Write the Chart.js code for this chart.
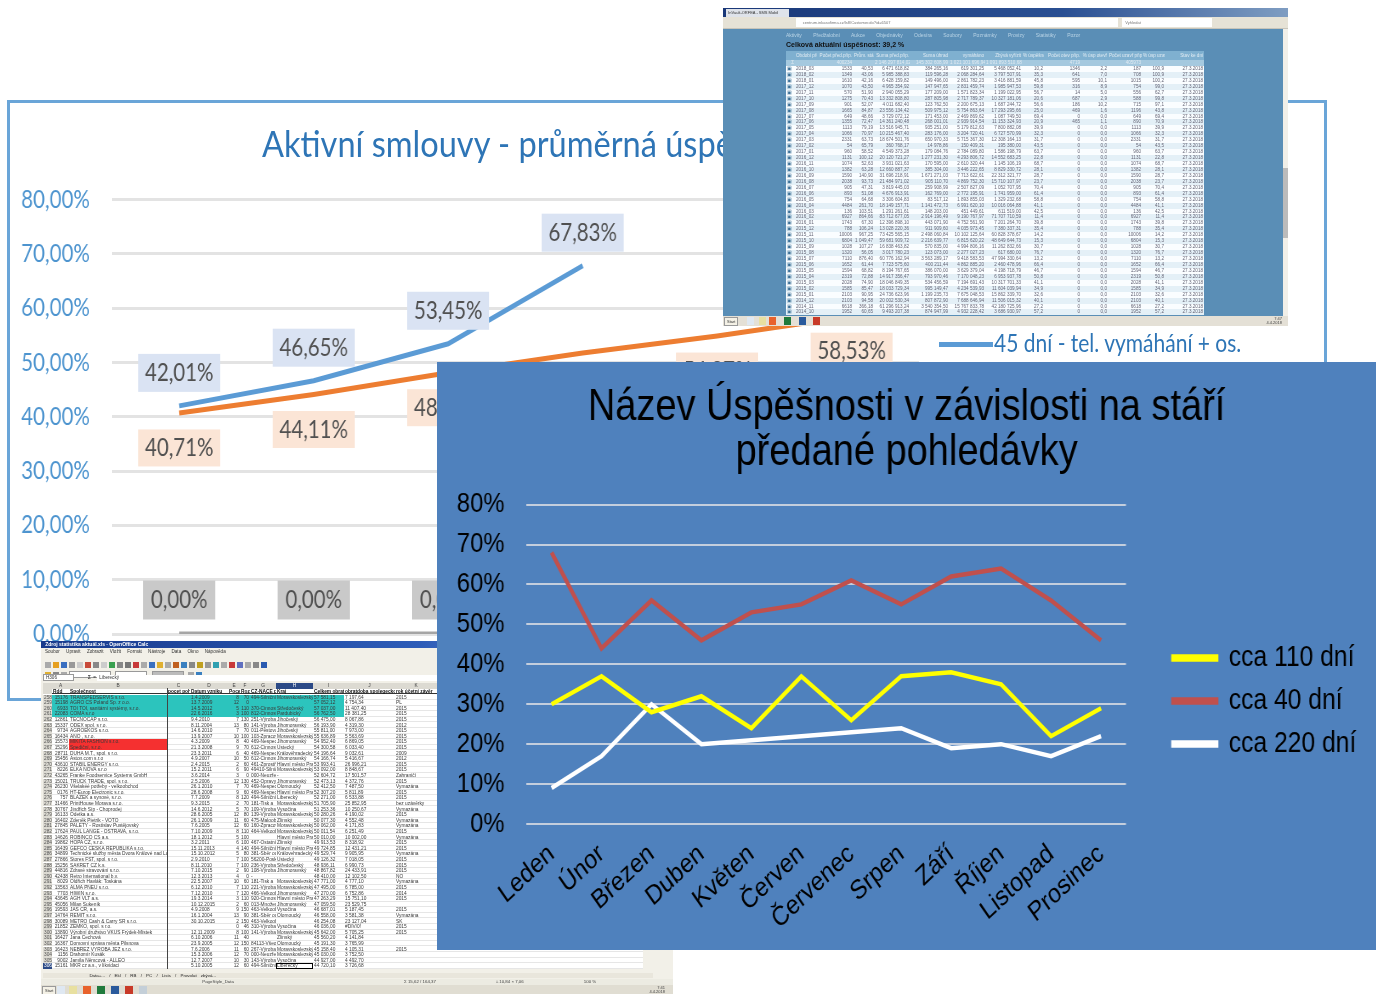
<!DOCTYPE html>
<html lang="cs"><head><meta charset="utf-8"><title>Úspěšnost</title>
<script src="https://cdn.jsdelivr.net/npm/chart.js@4"></script>
<style>
html,body{margin:0;padding:0;background:#fff;width:1381px;height:994px;overflow:hidden}
.abs{position:absolute}
#slide{left:7px;top:100px;width:1314px;height:595px;border:3px solid #6aa5d8;background:#fff;filter:blur(.7px)}
#slideTitle{left:262px;top:120px;font:37px Lato,sans-serif;color:#2e75b6;white-space:nowrap;transform-origin:0 0;transform:scaleX(.88);filter:blur(.7px)}
#slideLine{left:939px;top:342px;width:54px;height:5px;background:#5b9bd5;filter:blur(.6px)}
#slideLegend{left:994px;top:327px;font:25px Lato,sans-serif;color:#2e75b6;white-space:nowrap;transform-origin:0 0;transform:scaleX(.84);filter:blur(.6px)}
#bgChart{left:7px;top:100px;transform-origin:0 0;transform:scaleX(.82);filter:blur(.7px)}
#browser{left:723px;top:8px;width:565px;height:318px;background:#5a8eb6;overflow:hidden;filter:blur(.7px);font-family:"Liberation Sans",sans-serif}
#browser table{position:absolute;left:63px;top:43px;width:418px;border-collapse:collapse;table-layout:fixed;font-size:4.6px;color:#667}
#browser td,#browser th{padding:0 1px;height:5.94px;line-height:5.94px;white-space:nowrap;overflow:hidden;text-align:right;font-weight:400}
#browser thead th{height:9px;background:#7fb0d0;color:#dfeaf2}
#browser thead tr+tr th{height:6px;background:#a5c9df}
#browser tbody tr:nth-child(odd){background:#fafdff}
#browser tbody tr:nth-child(even){background:#e4f0f7}
#sheet{left:41px;top:641px;width:632px;height:353px;background:#f2f0e8;overflow:hidden;filter:blur(.5px);font-family:"Liberation Sans",sans-serif}
#grid{position:absolute;left:2px;top:42px;width:600px;height:286px;background:#fff;font-size:4.8px;color:#3a3a3a}
.r{position:absolute;left:0;width:600px;height:5.6px;line-height:5.6px;white-space:nowrap;border-bottom:.3px solid #e6e6e6;box-sizing:border-box}
.c{position:absolute;top:0;height:5.6px;overflow:hidden;padding:0 1px;box-sizing:border-box}
#mainChart{left:437px;top:362px;transform-origin:0 0;transform:scaleX(.85);filter:blur(.45px)}
.b{display:inline-block;width:6px;height:6px;margin-right:2px;vertical-align:middle}
</style></head><body>
<div id="slide" class="abs"></div>
<canvas id="bgChart" class="abs" width="1602" height="595"></canvas>
<div id="slideTitle" class="abs">Aktivní smlouvy - průměrná úspěšnost</div>
<div id="slideLine" class="abs"></div>
<div id="slideLegend" class="abs">45 dní - tel. vymáhání + os.</div>
<div id="browser" class="abs"></div>
<div id="sheet" class="abs"></div>
<canvas id="mainChart" class="abs" width="1105" height="588"></canvas>
<script>
// ---------- main chart ----------
const months = ["Leden","Únor","Březen","Duben","Květen","Červen","Červenec","Srpen","Září","Říjen","Listopad","Prosinec"];
const cca110 = [30,37,28,32,24,37,26,37,38,35,22,29];
const cca40  = [68,44,56,46,53,55,61,55,62,64,56,46];
const cca220 = [9,17,30,20,21,22,23,24,19,20,17,22];
const mainTitle = ["Název Úspěšnosti v závislosti na stáří","předané pohledávky"];
const pctTicks = [0,10,20,30,40,50,60,70,80];
// ---------- background chart ----------
const slideCats = ["1","2","3","4","5","6"];
const days45 = [42.01,46.65,53.45,67.83,null,null];
const daysOrange = [40.71,44.11,48.12,51.74,54.87,58.53];
const daysGray = [0,0,0,0,0,0];
// ---------- spreadsheet ----------
const sheetHead = "|Rdd|Společnost|pocet pohlr|Datum vzniku|Pocet|Rozzr|CZ-NACE př|Kraj|Celkem obrat|obratdoba spolegeckov|rok účetní závěr";
const sheetRows = [
"258|15176|TRANSPEDSERVIS s.r.o.||1.4.2009|8|70|494-Silniční|Moravskoslezský|57 581,15|7 197,64|2015",
"259|15198|AGRO CS Poland Sp. z o.o.||13.7.2009|12|0|||57 052,12|4 754,34|PL",
"260|6933|TOI TOI, sanitární systémy, s.r.o.||14.5.2012|5|110|370-Činnosti|Středočeský|57 037,00|11 407,40|2015",
"261|22083|COMA s.r.o||22.6.2016|3|100|812-Činnosti|Pardubický|56 762,50|28 381,25|2015",
"262|12861|TECNOCAP s.r.o.||9.4.2010|7|130|251-Výroba|Jihočeský|56 475,00|8 067,86|2015",
"263|15337|ODEX spol. s r.o.||8.11.2004|13|80|141-Výroba|Jihomoravský|56 193,90|4 319,30|2012",
"264|9734|AGROEKOS s.r.o.||14.6.2010|7|70|011-Pěstování|Jihočeský|55 811,00|7 973,00|2015",
"265|16434|ANO , s.r.o.||13.9.2007|10|100|103-Zpracování|Moravskoslezský|55 636,89|5 563,69|2015",
"266|15573|MIKITA FASHION s.r.o.||4.3.2009|8|40|469-Nespec|Jihomoravský|54 952,40|6 869,05|2015",
"267|15296|Spediční, s.r.o.||21.3.2008|9|70|612-Činnosti|Ústecký|54 300,58|6 033,40|2015",
"268|28711|DUHA M.T., spol. s r.o.||23.3.2011|6|40|469-Nespec|Královéhradecký|54 196,64|9 032,61|2009",
"269|15456|Aston.com s.r.o||4.9.2007|10|50|612-Činnosti|Jihomoravský|54 166,74|5 416,67|2012",
"270|43610|STABIL ENERGY s.r.o.||2.4.2015|2|60|461-Zprostř|Hlavní město Praha|53 993,41|26 996,21|2015",
"271|8226|ELKA NOVA s.r.o||15.2.2011|6|90|49410-Silniční|Moravskoslezský|53 092,00|8 848,67|2015",
"272|43265|Franke Foodservice Systems GmbH||3.6.2014|3|0|000-Neuzře|-|52 604,72|17 501,57|Zahraničí",
"273|15021|TRUCK TRADE, spol. s r.o.||2.5.2006|12|130|452-Opravy|Jihomoravský|52 473,13|4 372,76|2015",
"274|26230|Všelakéé potřeby - velkoobchod||26.1.2010|7|70|469-Nespec|Olomoucký|52 412,50|7 487,50|Vymazána",
"275|0176|HT-Europ Electronic s.r.o.||28.6.2008|9|60|469-Nespec|Hlavní město Praha|52 307,20|5 811,89|2015",
"276|757|BLAŽEK a synové, s.r.o.||7.7.2009|8|120|494-Silniční|Liberecký|52 271,00|6 533,88|2015",
"277|31466|PrintHouse Morava s.r.o.||9.3.2015|2|70|181-Tisk a|Moravskoslezský|51 705,90|25 852,95|bez uzávěrky",
"278|30767|Jindřich Šíp - Choprodej||14.6.2012|5|70|109-Výroba|Vysočina|51 253,36|10 250,67|Vymazána",
"279|16133|Odetka a.s.||28.6.2005|12|80|139-Výroba|Moravskoslezský|50 280,26|4 190,02|2015",
"280|16402|Zdeněk Pietrik - VOTO||26.1.2009|11|60|475-Maloobc|Zlínský|50 077,30|4 552,48|Vymazána",
"281|27845|PALETY - Rostislav Pustějovský||7.6.2005|12|60|160-Zpracování|Moravskoslezský|50 062,00|4 171,83|Vymazána",
"282|17624|PAUL LANGE - OSTRAVA, s.r.o.||7.10.2009|8|110|464-Velkoobch|Moravskoslezský|50 011,54|6 251,49|2015",
"283|14626|ROBINCO CS a.s.||18.1.2012|5|100||Hlavní město Praha|50 010,00|10 002,00|Vymazána",
"284|19862|HOPA CZ, s.r.o.||3.2.2011|6|100|467-Ostatní|Zlínský|49 913,53|8 318,92|2015",
"285|16439|GEFCO ČESKÁ REPUBLIKA s.r.o.||15.11.2013|4|140|494-Silniční|Hlavní město Praha|49 724,85|12 431,21|2015",
"286|34899|Technické služby města Dvora Králové nad Labem||15.10.2012|5|80|381-Sběr odp|Královehradecký|49 529,74|9 905,95|Vymazána",
"287|27866|Stores FST, spol. s r.o.||2.9.2010|7|100|56200-Poskyt|Ústecký|49 126,32|7 018,05|2015",
"288|15256|SAKRET CZ k.s.||8.11.2010|7|100|236-Výroba|Středočeský|48 936,11|6 990,73|2015",
"289|44816|Zdravé stravování s.r.o.||7.10.2015|2|90|108-Výroba|Jihomoravský|48 867,82|24 433,91|2015",
"290|42438|Retro International b.v.||12.3.2013|4|0|-||48 410,00|12 102,50|NO",
"291|8029|Oldřich Havlák: Toskána||22.5.2007|10|60|181-Tisk a|Moravskoslezský|47 771,00|4 777,10|Vymazána",
"292|13563|ALMA PNEU s.r.o.||6.12.2010|7|110|221-Výroba|Moravskoslezský|47 495,00|6 785,00|2015",
"293|7703|HIWIN s.r.o.||7.12.2010|7|120|466-Velkoobch|Jihomoravský|47 270,00|6 752,86|2014",
"294|43645|AGH VLT a.s.||19.3.2014|3|110|920-Činnosti|Hlavní město Praha|47 263,29|15 751,10|2015",
"295|45056|Milan Sukeník||10.12.2015|2|60|013-Množení|Jihomoravský|47 059,50|23 529,75|",
"296|19593|JAS ČR, a.s.||4.9.2008|9|150|463-Velkoobch|Vysočina|46 687,01|5 187,45|2015",
"297|14764|REMIT s.r.o.||16.1.2004|13|90|381-Sběr odp|Olomoucký|46 558,00|3 581,38|Vymazána",
"298|30089|METRO Cash & Carry SR s.r.o.||30.10.2015|2|150|463-Velkoobch||46 254,08|23 127,04|SK",
"299|21852|ZEMKO, spol. s r.o.|||0|46|310-Výroba|Vysočina|46 036,00|#DIV/0!|2015",
"300|13890|Výrobní družstvo VKUS Frýdek-Místek||12.11.2009|8|100|141-Výroba|Moravskoslezský|45 642,00|5 705,25|2015",
"301|16427|Jana Čechová||6.10.2006|11|40||Zlínský|45 560,20|4 141,84|",
"302|16367|Domovní správa města Pilsnova||23.9.2005|12|150|84113-Všeob|Olomoucký|45 191,30|3 765,99|",
"303|16423|NEBREZ VÝROBA JEŽ s.r.o.||7.6.2006|11|60|267-Výroba|Moravskoslezský|45 158,40|4 105,31|2015",
"304|1156|Drahomír Kusák||15.3.2006|12|70|000-Neuzře|Moravskoslezský|45 030,00|3 752,50|",
"305|9002|Jamila Němcová - ALLEO||12.7.2007|10|30|143-Výroba|Vysočina|44 927,00|4 492,70|",
"306|15161|MKR cz a.s., v likvidaci||5.10.2005|12|60|494-Silniční|Liberecký|44 720,10|3 726,68|"
];
const sheetColWidths = [9,17,98,23,38,12,10,26,37,31,51,42,206];
// ---------- browser table ----------
const webHead = ["","Období přenz","Počet před.pňp.","Prům. stáří","Suma před.pňp.","Suma úhrad","vymáháno","Zbývá vyřízit","% úspěšnosti","Počet otev pňp.","% úsp otevř","Počet uzavř pňp.","% úsp uzavř","Stav ke dni"];
const webSum = ["Σ","","400234","","2 146 297 814,02","145 302 608,99","1 021 101 696,94","1 091 893 510,68","","4719","","405973","",""];
const webRows = [
"2018_03|1533|40,53|6 471 618,82|384 265,16|619 301,25|5 468 052,41|10,2|1346|2,2|187|100,9",
"2018_02|1349|43,06|5 985 388,83|119 596,28|2 068 284,64|3 797 507,91|35,3|641|7,0|708|100,9",
"2018_01|1610|42,16|6 428 159,82|149 496,00|2 861 782,23|3 416 881,59|45,8|595|10,1|1015|100,2",
"2017_12|1070|43,50|4 965 354,92|147 947,65|2 831 459,74|1 985 947,53|59,8|316|8,9|754|99,0",
"2017_11|570|51,90|2 940 055,29|177 209,00|1 571 823,34|1 199 022,95|56,7|14|5,0|556|62,7",
"2017_10|1275|70,43|13 332 808,80|287 805,98|2 717 789,37|10 327 181,06|20,6|687|2,9|588|99,8",
"2017_09|901|52,07|4 011 682,40|123 762,50|2 200 675,13|1 687 244,72|56,6|186|10,2|715|97,1",
"2017_08|1665|84,87|23 556 134,42|509 975,12|5 754 863,64|17 293 295,66|25,0|469|1,6|1196|43,8",
"2017_07|649|48,66|3 729 072,12|171 453,00|2 469 869,62|1 087 749,50|69,4|0|0,0|649|69,4",
"2017_06|1355|72,47|14 361 240,48|268 001,01|2 939 914,54|11 153 324,93|20,9|465|1,1|890|70,9",
"2017_05|1113|79,19|13 516 945,71|935 251,00|5 179 812,63|7 800 882,08|39,9|0|0,0|1113|39,9",
"2017_04|1066|70,97|10 215 467,40|283 176,00|3 204 720,41|6 727 570,99|32,3|0|0,0|1066|32,3",
"2017_03|2331|63,73|18 674 501,76|650 970,33|5 715 367,30|12 308 164,13|31,7|0|0,0|2331|31,7",
"2017_02|54|65,79|360 768,17|14 978,86|150 409,31|195 380,00|43,5|0|0,0|54|43,5",
"2017_01|960|58,52|4 549 373,28|179 084,76|2 784 089,80|1 586 198,79|63,7|0|0,0|960|63,7",
"2016_12|1131|100,12|20 120 721,27|1 277 231,30|4 293 806,72|14 552 683,25|22,8|0|0,0|1131|22,8",
"2016_11|1074|52,63|3 931 021,63|170 595,00|2 610 320,44|1 145 106,19|68,7|0|0,0|1074|68,7",
"2016_10|1382|63,28|12 660 887,37|385 304,00|3 446 222,65|8 829 330,72|28,1|0|0,0|1382|28,1",
"2016_09|1590|140,90|31 696 218,91|1 671 271,03|7 713 622,61|22 312 321,77|28,7|0|0,0|1590|28,7",
"2016_08|2038|93,73|21 484 971,02|905 110,70|4 869 752,30|15 710 107,97|23,7|0|0,0|2038|23,7",
"2016_07|905|47,31|3 819 445,03|259 908,99|2 507 827,09|1 052 707,95|70,4|0|0,0|905|70,4",
"2016_06|893|51,08|4 676 913,91|162 769,00|2 772 195,91|1 741 959,00|61,4|0|0,0|893|61,4",
"2016_05|754|64,68|3 306 604,83|83 517,12|1 893 855,03|1 329 232,68|58,8|0|0,0|754|58,8",
"2016_04|4484|261,70|18 149 157,71|1 141 472,73|6 991 620,10|10 016 064,88|41,1|0|0,0|4484|41,1",
"2016_03|136|103,51|1 291 261,61|148 203,00|451 449,61|611 519,00|42,5|0|0,0|136|42,5",
"2016_02|6927|864,66|83 712 677,05|2 914 196,49|9 190 767,97|71 707 710,59|11,4|0|0,0|6927|11,4",
"2016_01|1743|67,30|12 396 898,10|443 071,90|4 752 561,90|7 201 264,70|39,8|0|0,0|1743|39,8",
"2015_12|788|106,24|13 028 220,36|911 909,60|4 035 973,45|7 380 337,31|35,4|0|0,0|788|35,4",
"2015_11|10006|967,25|73 425 565,15|2 498 060,84|10 102 125,64|60 828 378,67|14,2|0|0,0|10006|14,2",
"2015_10|6804|1 049,47|59 681 909,72|2 216 639,77|6 815 620,22|48 649 644,73|15,3|0|0,0|6804|15,3",
"2015_09|1028|107,27|16 838 463,82|570 835,00|4 994 806,16|11 262 832,66|30,7|0|0,0|1028|30,7",
"2015_08|1320|56,05|3 017 780,23|123 073,00|2 277 027,23|617 680,00|76,7|0|0,0|1320|76,7",
"2015_07|7110|876,40|60 776 162,94|3 563 289,17|9 418 583,53|47 994 330,64|13,2|0|0,0|7110|13,2",
"2015_06|1652|61,44|7 723 575,60|400 211,44|4 862 885,20|2 460 478,96|66,4|0|0,0|1652|66,4",
"2015_05|1594|68,82|8 194 767,65|386 070,00|3 629 379,04|4 198 718,79|46,7|0|0,0|1594|46,7",
"2015_04|2319|72,88|14 917 356,47|793 970,46|7 170 048,23|6 953 937,78|50,8|0|0,0|2319|50,8",
"2015_03|2028|74,90|18 046 849,35|534 456,59|7 194 691,43|10 317 701,33|41,1|0|0,0|2028|41,1",
"2015_02|1585|85,47|18 033 729,34|995 149,47|4 234 539,93|11 604 039,94|34,9|0|0,0|1585|34,9",
"2015_01|2103|90,95|24 736 623,96|1 199 235,73|7 675 048,53|15 862 339,70|32,6|0|0,0|2103|32,6",
"2014_12|2103|94,58|20 002 530,34|807 872,90|7 688 646,94|11 506 015,32|40,1|0|0,0|2103|40,1",
"2014_11|6618|366,18|61 296 913,24|3 540 354,50|15 767 833,78|42 180 725,96|27,2|0|0,0|6618|27,2",
"2014_10|1952|60,65|9 493 207,38|874 947,99|4 932 228,42|3 686 930,97|57,2|0|0,0|1952|57,2"
];
const webColWidths = [9,22,36,21,36,39,36,37,22,37,27,34,23,39];
const webTools = ["Aktivity","Předžalobní","Aukce","Objednávky","Odesíra","Soubory","Poznámky","Provizy","Statistiky","Pozor"];
const sheetMenu = ["Soubor","Upravit","Zobrazit","Vložit","Formát","Nástroje","Data","Okno","Nápověda"];
const sheetTabs = ["Data+...","Ekl","RB","PC","Lists","Provolat zbývá..."];

// ---------- build browser ----------
const esc = s => s.replace(/&/g,"&amp;");
(function(){
 const el = document.getElementById("browser");
 let h = `<div class="abs" style="left:0;top:0;width:565px;height:9px;background:linear-gradient(90deg,#1a3878,#2a4f92 60%,#7f9dc2)"></div>
 <div class="abs" style="left:3px;top:1px;width:63px;height:8px;background:#dfe3ea;font-size:4px;line-height:8px;color:#333;white-space:nowrap;overflow:hidden">&nbsp;&nbsp;InVault-ORFEA - SMS Mobil</div>
 <div class="abs" style="left:0;top:9px;width:565px;height:11px;background:#e6e2d6"></div>
 <div class="abs" style="left:73px;top:10px;width:322px;height:9px;background:#fff;font-size:4px;line-height:9px;color:#777;white-space:nowrap">&nbsp;&nbsp;&nbsp;&nbsp;&nbsp;&nbsp;centrum.inkasofirma.cz/ls8/Customer.do?id=6507</div>
 <div class="abs" style="left:399px;top:10px;width:90px;height:9px;background:#fff;font-size:4px;line-height:9px;color:#777">&nbsp;&nbsp;&nbsp;Vyhledat</div>
 <div class="abs" style="left:0;top:20px;width:565px;height:1px;background:#c7c4ba"></div>
 <div class="abs" style="left:560px;top:21px;width:5px;height:287px;background:#f1efe8"></div>
 <div class="abs" style="left:560px;top:160px;width:5px;height:70px;background:#bbb"></div>
 <div class="abs" style="left:63px;top:24px;font-size:5px;color:#b9d4e6;white-space:nowrap;word-spacing:10px">${webTools.join(" ")}</div>
 <div class="abs" style="left:63px;top:33px;font-size:7px;font-weight:700;color:#111;white-space:nowrap">Celková aktuální úspěšnost: 39,2 %</div>`;
 h += `<table><colgroup>${webColWidths.map(w=>`<col style="width:${w}px">`).join("")}</colgroup><thead>
 <tr>${webHead.map(t=>`<th>${t}</th>`).join("")}</tr><tr>${webSum.map(t=>`<th>${t}</th>`).join("")}</tr></thead><tbody>`;
 webRows.forEach(r=>{const c=r.split("|");h+=`<tr><td style="text-align:left;color:#3a6f96">▣</td><td style="text-align:left">${c[0]}</td>`+c.slice(1).map(v=>`<td>${v}</td>`).join("")+`<td>27.3.2018</td></tr>`});
 h += `</tbody></table>
 <div class="abs" style="left:0;top:308px;width:565px;height:10px;background:#e4e0d6"></div>
 <div class="abs" style="left:1px;top:309px;font-size:4px;color:#333;background:#f4f1e6;border:.5px solid #999;padding:0 2px;line-height:7px">Start</div>`;
 [["#dfe8f2",24],["#e8e0a0",36],["#e8622c",46],["#1f7a3c",61],["#2a5a9c",76],["#c83a28",90]].forEach(b=>h+=`<div class="abs" style="left:${b[1]}px;top:309px;width:7px;height:8px;background:${b[0]}"></div>`);
 h += `<div class="abs" style="right:6px;top:309px;font-size:4px;line-height:4px;color:#444;text-align:right">7:47<br>4.4.2018</div>`;
 el.innerHTML = h;
})();

// ---------- build sheet ----------
(function(){
 const el = document.getElementById("sheet");
 const tools = c => c.map(x=>`<span class="b" style="background:${x}"></span>`).join("");
 let h = `<div class="abs" style="left:0;top:0;width:632px;height:7px;background:linear-gradient(90deg,#183a8c,#2d5cb8 60%,#90a8d8);color:#fff;font-size:5px;line-height:7px;white-space:nowrap;font-weight:700">&nbsp;&nbsp;&nbsp;Zdroj statistika aktuál.xls - OpenOffice Calc</div>
 <div class="abs" style="left:4px;top:7px;font-size:4.6px;line-height:7px;color:#333;word-spacing:5px;white-space:nowrap">${sheetMenu.join(" ")}</div>
 <div class="abs" style="left:4px;top:14px;white-space:nowrap">${tools(["#aaa","#e6a020","#3a6fc0","#999","#ccc","#c84a3a","#888","#ccc","#3aa050","#888","#777","#c83a3a","#aaa","#3a70c0","#e0b030","#aaa","#c06020","#3a80c0","#888","#c0a020","#999","#30a0b0","#aaa","#c83a3a","#6070c0","#aaa","#888","#2a5ab0"])}</div>
 <div class="abs" style="left:4px;top:24px;white-space:nowrap">${tools(["#e0b030","#888","#aaa"])}<span style="display:inline-block;width:40px;height:5px;background:#fff;border:.5px solid #999;vertical-align:middle"></span>&nbsp;<span style="display:inline-block;width:30px;height:5px;background:#fff;border:.5px solid #999;vertical-align:middle"></span>&nbsp;<span style="display:inline-block;width:30px;height:5px;background:#bbb;border:.5px solid #999;vertical-align:middle"></span>&nbsp;${tools(["#aaa","#3a80c0"])}</div>
 <div class="abs" style="left:2px;top:33px;width:600px;height:7px;font-size:4.6px;line-height:7px;color:#333;white-space:nowrap"><span style="background:#fff;border:.5px solid #999;padding:0 16px 0 2px">H306</span>&nbsp;&nbsp;&nbsp;&nbsp;&nbsp;&nbsp;&nbsp;&nbsp;&nbsp;&nbsp;&nbsp;<b>Σ</b>&nbsp;&nbsp;=&nbsp;<span style="background:#fff;display:inline-block;width:520px;padding-left:2px;line-height:6px">Liberecký</span></div>
 <div id="grid">`;
 const lefts = []; sheetColWidths.reduce((a,w,i)=>{lefts[i]=a;return a+w},0);
 const rowHtml = (cells,top,fn,extra) => `<div class="r" style="top:${top}px;${extra||""}">`+cells.map((v,i)=>`<div class="c" style="left:${lefts[i]}px;width:${sheetColWidths[i]}px;${fn(i)}">${esc(v)}</div>`).join("")+`</div>`;
 const letters = ["","A","B","C","D","E","F","G","H","I","J","K",""];
 h += rowHtml(letters,0,i=>`background:${i==8?"#2c4a86":"#dcdad2"};color:${i==8?"#fff":"#444"};text-align:center;`);
 h += rowHtml(sheetHead.split("|").concat([""]),5.8,i=>`font-weight:700;color:#111;${i==0?"background:#dcdad2;":""}`,"border-bottom:1px solid #333;");
 sheetRows.forEach((r,ri)=>{
  const c=r.split("|").concat([""]);
  h+=rowHtml(c,11.5+ri*5.6,i=>{
   let s="";
   if(i==0) s=(ri==48?"background:#2c4a86;color:#fff;":"background:#dcdad2;color:#555;")+"text-align:center;";
   if(i==1||i==5||i==6) s+="text-align:right;";
   if(ri<4&&i>=1&&i<=9) s+="background:#2cc4bd;";
   if((ri==8||ri==9)&&i==2) s+="background:#f53030;";
   if(ri==48&&i==8) s+="outline:1.2px solid #000;outline-offset:-1px;";
   return s;
  });
 });
 h += `<div class="abs" style="left:124px;top:5px;width:1px;height:281px;background:#444"></div></div>
 <div class="abs" style="left:2px;top:332px;width:610px;height:5px;background:#e9e6dc;font-size:4.4px;line-height:5px;color:#222;white-space:nowrap;word-spacing:3px">&nbsp;&nbsp;&nbsp;&nbsp;&nbsp;&nbsp;&nbsp;&nbsp;&nbsp;&nbsp;&nbsp;${sheetTabs.join(" / ")}</div>
 <div class="abs" style="left:0;top:338px;width:632px;height:6px;background:#ecebe2;font-size:4.4px;line-height:6px;color:#444;white-space:nowrap">&nbsp;<span style="margin-left:160px">PageStyle_Data</span><span style="margin-left:170px">Σ 15,62 / 164,37</span><span style="margin-left:60px">⌗ 10,84 × 7,06</span><span style="margin-left:60px">100 %</span></div>
 <div class="abs" style="left:0;top:344px;width:632px;height:9px;background:#e0ddd2"></div>
 <div class="abs" style="left:1px;top:345px;font-size:4px;color:#333;background:#f4f1e6;border:.5px solid #999;padding:0 2px;line-height:7px">Start</div>`;
 [["#dfe8f2",16],["#e8e0a0",28],["#e8622c",42],["#1f7a3c",56],["#2a5a9c",70],["#c83a28",84],["#c4cfd8",98]].forEach(b=>h+=`<div class="abs" style="left:${b[1]}px;top:345px;width:8px;height:8px;background:${b[0]}"></div>`);
 h += `<div class="abs" style="right:8px;top:345px;font-size:4px;line-height:4px;color:#444;text-align:right">7:41<br>4.4.2018</div>`;
 el.innerHTML = h;
})();

// ---------- background chart ----------
const boxLabels = {
 id:"boxLabels",
 afterDatasetsDraw(chart){
  const ctx = chart.ctx;
  const cfg = [{fill:"#dae3f3",off:-33,w:100,h:38},{fill:"#fbe5d6",off:35,w:100,h:37},{fill:"#c9c9c9",off:-34,w:88,h:39}];
  chart.data.datasets.forEach((ds,d)=>{
   chart.getDatasetMeta(d).data.forEach((pt,i)=>{
    const v = ds.data[i]; if(v==null) return;
    const c = cfg[d], y = pt.y + c.off;
    ctx.fillStyle = c.fill; ctx.fillRect(pt.x-c.w/2,y-c.h/2,c.w,c.h);
    ctx.fillStyle = "#505050"; ctx.font = "25px Lato, sans-serif"; ctx.textAlign="center"; ctx.textBaseline="middle";
    ctx.fillText(v.toFixed(2).replace(".",",")+"%",pt.x,y);
   });
  });
 }
};
new Chart(document.getElementById("bgChart"),{
 type:"line",
 data:{labels:slideCats,datasets:[
  {label:"45 dní - tel. vymáhání + os.",data:days45,borderColor:"#5b9bd5",borderWidth:5,pointRadius:0,tension:0,spanGaps:false},
  {label:"Oranžová",data:daysOrange,borderColor:"#ed7d31",borderWidth:5,pointRadius:0,tension:0},
  {label:"Šedá",data:daysGray,borderColor:"#a5a5a5",borderWidth:5,pointRadius:0,tension:0}
 ]},
 plugins:[boxLabels],
 options:{responsive:false,animation:false,devicePixelRatio:1,
  layout:{padding:{top:99.6,left:0,bottom:58,right:490}},
  plugins:{legend:{display:false},title:{display:false},tooltip:{enabled:false}},
  scales:{
   x:{offset:true,ticks:{display:false},grid:{display:false},border:{display:false},afterFit(s){s.height=3}},
   y:{min:0,max:80,ticks:{stepSize:10,padding:27,color:"#4d94cf",font:{family:"Lato",size:25},callback:v=>v.toFixed(2).replace(".",",")+"%"},
      grid:{color:"#e3e3e3",lineWidth:3,drawTicks:false},border:{display:false},afterFit(s){s.width=128}}
  }
 }
});

// ---------- main chart ----------
new Chart(document.getElementById("mainChart"),{
 type:"line",
 data:{labels:months,datasets:[
  {label:"cca 110 dní",data:cca110,borderColor:"#ffff00",backgroundColor:"#ffff00",borderWidth:4.5,pointRadius:0,tension:0},
  {label:"cca 40 dní",data:cca40,borderColor:"#c0504d",backgroundColor:"#c0504d",borderWidth:4.5,pointRadius:0,tension:0},
  {label:"cca 220 dní",data:cca220,borderColor:"#ffffff",backgroundColor:"#ffffff",borderWidth:4.5,pointRadius:0,tension:0}
 ]},
 plugins:[
  {id:"panelBg",beforeDraw(c){c.ctx.fillStyle="#4f81bd";c.ctx.fillRect(0,0,c.width,c.height)}},
  {id:"legendPlace",afterLayout(c){
    const l=c.legend;const h=l.bottom-l.top;l.left=852;l.right=1105;l.width=253;l.top=(701-362)-h/2;l.bottom=l.top+h;
    const t=c.titleBlock;t.left=0;t.right=1105;t.width=1105;
  }}
 ],
 options:{responsive:false,animation:false,devicePixelRatio:1,
  layout:{padding:{top:23,left:0,right:55,bottom:0}},
  plugins:{tooltip:{enabled:false},
   title:{display:true,text:mainTitle,color:"#000",font:{family:"'Liberation Sans',sans-serif",size:44.7,weight:"400",lineHeight:1.01},padding:{top:0,bottom:29.3}},
   legend:{position:"right",align:"center",labels:{color:"#000",boxWidth:51,boxHeight:3,padding:14,font:{family:"'Liberation Sans',sans-serif",size:29}}}
  },
  scales:{
   x:{offset:true,grid:{display:false},border:{display:false},
      ticks:{color:"#000",minRotation:39,maxRotation:39,padding:6,autoSkip:false,font:{family:"'Liberation Sans',sans-serif",size:27}},
      afterFit(s){s.height=126}},
   y:{min:0,max:80,afterBuildTicks(s){s.ticks=pctTicks.map(v=>({value:v}))},
      ticks:{color:"#000",padding:26,font:{family:"'Liberation Sans',sans-serif",size:28},callback:v=>v+"%"},
      grid:{color:"#c4cedd",lineWidth:2,drawTicks:false},border:{display:false},afterFit(s){s.width=105.4}}
  }
 }
});
</script></body></html>
